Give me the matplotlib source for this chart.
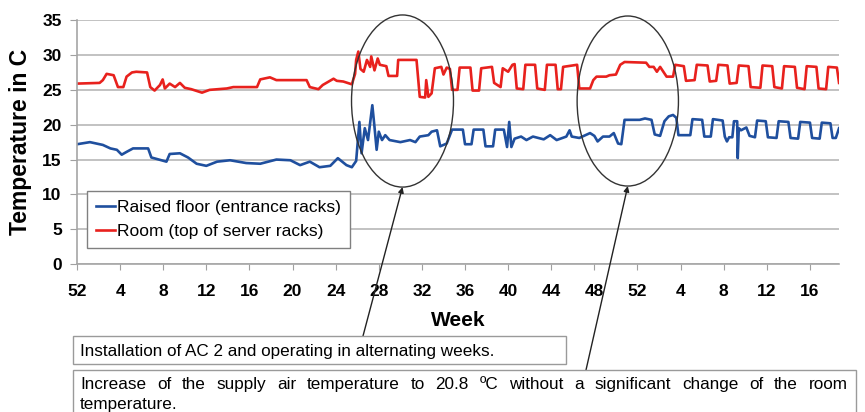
"""
Room and raised floor temperature per week, with the two operating changes
marked by ellipses and explained in boxes under the chart.
"""

# Imports
import matplotlib
matplotlib.use("Agg")
import matplotlib.pyplot as plt
from matplotlib.patches import Ellipse, Rectangle

plt.rcParams["font.family"] = ["Liberation Sans", "DejaVu Sans"]

# Define constants
RED = "#e8211d"
BLUE = "#1f4f9e"
GRID = "#bdbdbd"

# x axis: running week index, 0 = week 52 of the first year
tick_pos = list(range(0, 69, 4))
tick_labels = ["52", "4", "8", "12", "16", "20", "24", "28", "32", "36",
               "40", "44", "48", "52", "4", "8", "12", "16"]

# Room (top of server racks), (week, temperature)
room_points = [
    (0, 25.9), (2.1, 26.0), (2.4, 26.4), (2.75, 27.3), (3.4, 27.1), (3.8, 25.4),
    (4.3, 25.4), (4.6, 26.9), (5.1, 27.5), (5.5, 27.6), (6.5, 27.5), (6.8, 25.4),
    (7.2, 24.9), (7.7, 25.7), (7.95, 26.5), (8.15, 25.2), (8.6, 25.9), (9.1, 25.4),
    (9.55, 26.0), (10.0, 25.3), (10.6, 25.1), (11.6, 24.6), (12.3, 25.0), (13.9, 25.2),
    (14.5, 25.4), (16.7, 25.4), (17.0, 26.5), (17.9, 26.8), (18.5, 26.4), (21.3, 26.4),
    (21.6, 25.4), (22.4, 25.1), (22.8, 25.7), (23.8, 26.6), (24.1, 26.3), (24.7, 26.2),
    (25.5, 25.8), (25.8, 27.3), (25.9, 29.3), (26.1, 30.5), (26.3, 28.0), (26.6, 27.6),
    (26.9, 29.3), (27.2, 28.3), (27.3, 29.8), (27.6, 27.8), (27.9, 29.5), (28.1, 28.6),
    (28.7, 28.4), (28.9, 27.0), (29.7, 27.0), (29.8, 29.3), (31.5, 29.3), (31.8, 24.0),
    (32.3, 23.9), (32.4, 26.4), (32.6, 24.0), (32.9, 24.5), (33.2, 28.1), (33.8, 28.3),
    (34.0, 27.2), (34.3, 28.2), (34.6, 28.0), (34.8, 25.0), (35.3, 25.0), (35.5, 28.2),
    (36.5, 28.2), (36.7, 24.9), (37.3, 24.9), (37.5, 28.1), (38.5, 28.3), (38.7, 26.0),
    (39.3, 25.4), (39.5, 28.1), (40.0, 27.6), (40.4, 28.6), (40.6, 28.7), (40.8, 25.2),
    (41.4, 25.1), (41.6, 28.6), (42.5, 28.6), (42.7, 25.2), (43.4, 25.0), (43.6, 28.6),
    (44.4, 28.6), (44.6, 25.1), (44.9, 25.1), (45.1, 28.3), (46.4, 28.6), (46.6, 25.2),
    (47.6, 25.2), (47.9, 26.4), (48.2, 26.9), (49.1, 26.9), (49.4, 27.1), (50.0, 27.2),
    (50.4, 28.6), (50.8, 29.0), (52.8, 28.9), (53.1, 28.3), (53.5, 28.3), (53.8, 27.6),
    (54.1, 28.3), (54.7, 26.9), (55.3, 26.9), (55.5, 28.6), (56.3, 28.4), (56.5, 26.3),
    (57.3, 26.4), (57.5, 28.6), (58.5, 28.5), (58.7, 26.2), (59.3, 26.3), (59.5, 28.6),
    (60.35, 28.5), (60.55, 25.9), (61.2, 26.0), (61.4, 28.5), (62.3, 28.4), (62.5, 25.4),
    (63.4, 25.3), (63.6, 28.5), (64.5, 28.4), (64.7, 25.4), (65.4, 25.2), (65.6, 28.4),
    (66.6, 28.3), (66.8, 25.3), (67.5, 25.1), (67.7, 28.4), (68.6, 28.3), (68.8, 25.2),
    (69.5, 25.1), (69.7, 28.3), (70.5, 28.2), (70.7, 26.0),
]

# Raised floor (entrance racks), (week, temperature)
floor_points = [
    (0, 17.2), (1.2, 17.5), (2.4, 17.1), (3.1, 16.6), (3.7, 16.4), (4.15, 15.7),
    (4.6, 16.1), (5.2, 16.6), (6.6, 16.6), (6.9, 15.3), (7.85, 14.9), (8.3, 14.7),
    (8.6, 15.8), (9.55, 15.9), (10.3, 15.3), (11.1, 14.4), (12.0, 14.1), (13.0, 14.7),
    (14.2, 14.9), (15.7, 14.5), (17.0, 14.4), (18.5, 15.0), (19.8, 14.9), (20.7, 14.2),
    (21.6, 14.7), (22.5, 13.9), (23.5, 14.1), (24.2, 15.2), (25.0, 14.2), (25.5, 13.9),
    (25.9, 14.8), (26.2, 20.4), (26.4, 15.9), (26.7, 19.5), (27.0, 17.8), (27.4, 22.8),
    (27.6, 19.7), (27.8, 16.4), (28.0, 19.0), (28.3, 17.8), (28.6, 18.5), (29.0, 17.8),
    (30.0, 17.5), (30.9, 17.8), (31.4, 17.5), (31.8, 18.3), (32.6, 18.5), (32.9, 19.0),
    (33.4, 19.2), (33.7, 16.9), (34.3, 17.3), (34.8, 19.3), (35.8, 19.3), (36.0, 17.2),
    (36.6, 17.2), (36.8, 19.3), (37.7, 19.3), (37.9, 16.9), (38.6, 16.9), (38.8, 19.3),
    (39.6, 19.3), (39.9, 16.8), (40.1, 20.4), (40.3, 16.8), (40.6, 18.0), (41.2, 18.3),
    (41.7, 17.8), (42.3, 18.3), (43.3, 17.9), (43.9, 18.5), (44.5, 17.8), (45.4, 18.3),
    (45.7, 19.2), (45.9, 18.3), (46.6, 18.1), (47.6, 18.8), (48.0, 18.4), (48.3, 17.6),
    (48.8, 18.3), (49.4, 18.3), (49.8, 18.8), (50.2, 17.3), (50.5, 17.2), (50.8, 20.7),
    (52.2, 20.7), (52.7, 20.9), (53.3, 20.7), (53.6, 18.6), (54.1, 18.4), (54.5, 20.5),
    (54.9, 21.2), (55.3, 21.4), (55.6, 21.0), (55.8, 18.5), (56.9, 18.5), (57.1, 20.8),
    (58.0, 20.7), (58.2, 18.3), (58.8, 18.3), (59.0, 20.8), (59.9, 20.6), (60.1, 18.3),
    (60.3, 17.6), (60.5, 18.2), (60.8, 18.2), (60.95, 20.5), (61.25, 20.5), (61.3, 15.2),
    (61.4, 19.5), (61.6, 19.2), (62.1, 19.6), (62.4, 18.4), (62.9, 18.2), (63.1, 20.6),
    (63.9, 20.5), (64.1, 18.2), (64.9, 18.1), (65.1, 20.5), (66.0, 20.4), (66.2, 18.1),
    (66.9, 18.0), (67.1, 20.4), (68.0, 20.3), (68.2, 18.1), (68.9, 18.0), (69.1, 20.3),
    (69.9, 20.2), (70.1, 18.1), (70.4, 18.1), (70.7, 19.5),
]

note_ac2 = "Installation of AC 2 and operating in alternating weeks."
note_supply = ("Increase of the supply air temperature to 20.8 \u00baC without a "
               "significant change of the room")
note_supply_end = "temperature."


# Functions
def justified_line(fig, text, x0, x1, y, **kw):
    # Spread the words of one line so it fills x0..x1 (figure fraction)
    words = text.split()
    items = [fig.text(x0, y, w, va="center", ha="left", **kw) for w in words]
    renderer = fig.canvas.get_renderer()
    widths = [t.get_window_extent(renderer).width / fig.bbox.width for t in items]
    gap = (x1 - x0 - sum(widths)) / (len(words) - 1)
    x = x0
    for t, w in zip(items, widths):
        t.set_x(x)
        x += w + gap


# Prepare graph
fig = plt.figure(figsize=(8.65, 4.12), dpi=100)
ax = fig.add_axes([0.089, 0.359, 0.881, 0.592])

room_x = [p[0] for p in room_points]
room_y = [p[1] for p in room_points]
floor_x = [p[0] for p in floor_points]
floor_y = [p[1] for p in floor_points]

ax.plot(floor_x, floor_y, color=BLUE, lw=1.9, label="Raised floor (entrance racks)")
ax.plot(room_x, room_y, color=RED, lw=1.9, label="Room (top of server racks)")

ax.set_xlim(0, 70.7)
ax.set_ylim(0, 35)
ax.set_xticks(tick_pos)
ax.set_xticklabels(tick_labels)
ax.set_yticks(range(0, 36, 5))
ax.tick_params(axis="x", length=4, color="#a0a0a0", pad=10, labelsize=12.5)
ax.tick_params(axis="y", length=5, color="#a0a0a0", pad=6, labelsize=12.5)
for lab in ax.get_xticklabels() + ax.get_yticklabels():
    lab.set_fontweight("bold")

ax.yaxis.grid(True, color=GRID, lw=1.3)
ax.set_axisbelow(True)
for side in ("top", "right"):
    ax.spines[side].set_visible(False)
for side in ("left", "bottom"):
    ax.spines[side].set_color("#a6a6a6")
    ax.spines[side].set_linewidth(1.2)

# Label axis
ax.set_xlabel("Week", fontsize=15, fontweight="bold", labelpad=9)
ax.set_ylabel("Temperature in C", fontsize=16.5, fontweight="bold", labelpad=7)

leg = ax.legend(loc="upper left", bbox_to_anchor=(0.013, 0.30), borderaxespad=0,
                fontsize=12.5, handlelength=1.1, handletextpad=0.15,
                labelspacing=0.55, borderpad=0.5, fancybox=False, framealpha=1)
leg.get_frame().set_edgecolor("#808080")
leg.get_frame().set_linewidth(1.0)

# Ellipses around the two changes, arrows from the explaining boxes
for cx, w, h, tail in [(30.2, 9.46, 24.7, (363, 76)), (51.1, 9.4, 24.4, (586, 42))]:
    ax.add_patch(Ellipse((cx, 23.4), w, h, fill=False, ec="#333333", lw=1.0,
                         clip_on=False, zorder=5))
    ax.annotate("", xy=(cx, 23.4 - h / 2), xycoords="data",
                xytext=tail, textcoords="figure pixels", annotation_clip=False,
                arrowprops=dict(arrowstyle="-|>", color="#222222", lw=1.0,
                                mutation_scale=8, shrinkA=0, shrinkB=0))

# Text boxes under the chart
fig.add_artist(Rectangle((0.0844, 0.1165), 0.570, 0.068, transform=fig.transFigure,
                         fill=False, ec="#9a9a9a", lw=1.0))
fig.text(0.0925, 0.148, note_ac2, fontsize=12.3, va="center", ha="left")

fig.add_artist(Rectangle((0.0844, -0.02), 0.905, 0.122, transform=fig.transFigure,
                         fill=False, ec="#9a9a9a", lw=1.0))
justified_line(fig, note_supply, 0.0925, 0.980, 0.066, fontsize=12.3)
fig.text(0.0925, 0.017, note_supply_end, fontsize=12.3, va="center", ha="left")

fig.savefig("out.png", dpi=100)
